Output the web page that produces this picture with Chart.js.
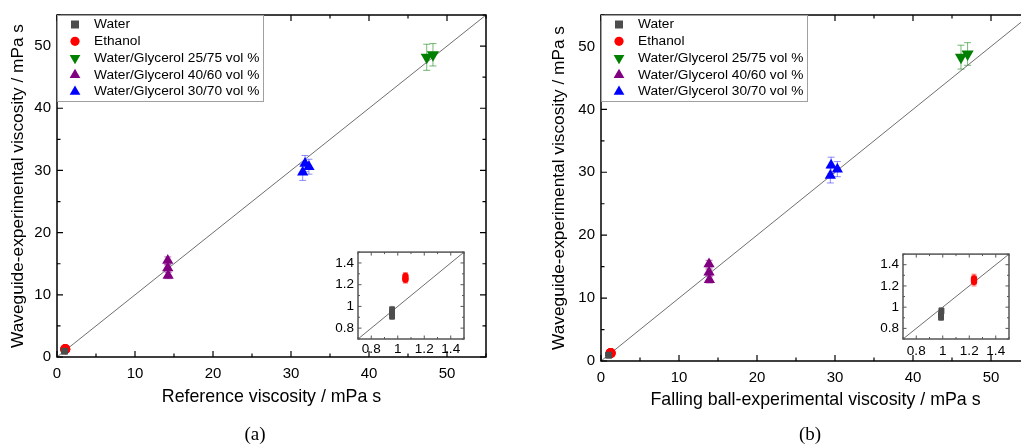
<!DOCTYPE html>
<html>
<head>
<meta charset="utf-8">
<script src="https://cdn.jsdelivr.net/npm/chart.js@4.4.1/dist/chart.umd.min.js"></script>
<style>
    html, body { margin: 0; padding: 0; width: 1021px; height: 446px; overflow: hidden; background: #fff; }
    canvas { position: absolute; }
    .panel-label { position: absolute; width: 100px; text-align: center; line-height: 22px;
                   font-family: "Liberation Serif", "Times New Roman", serif; font-size: 19px; color: #000; }
</style>
</head>
<body>
<canvas id="mainA" width="510" height="446" style="left:0;top:0"></canvas>
<canvas id="mainB" width="510" height="446" style="left:544px;top:0"></canvas>
<canvas id="insetA" width="150" height="120" style="left:320px;top:240px"></canvas>
<canvas id="insetB" width="150" height="120" style="left:865px;top:242px"></canvas>
<div class="panel-label" style="left:205px;top:423px">(a)</div>
<div class="panel-label" style="left:760px;top:423px">(b)</div>
<script>
const seriesNames = ["Water", "Ethanol", "Water/Glycerol 25/75 vol %", "Water/Glycerol 40/60 vol %", "Water/Glycerol 30/70 vol %"];

// panel (a): [reference viscosity, waveguide viscosity, error]
const waterA   = [[0.957, 0.91, 0.03], [0.957, 0.94, 0.03], [0.957, 0.97, 0.03]];
const ethanolA = [[1.058, 1.245, 0.03], [1.058, 1.26, 0.03], [1.058, 1.28, 0.03]];
const gly2575A = [[47.4, 48.2, 2.1], [48.2, 48.6, 1.8]];
const gly4060A = [[14.2, 15.5, 0.6], [14.2, 14.3, 0.5], [14.25, 13.1, 0.5]];
const gly3070A = [[31.8, 31.1, 1.3], [32.3, 30.6, 1.2], [31.5, 29.7, 1.3]];

// panel (b): [falling ball viscosity, waveguide viscosity, error]
const waterB   = [[0.987, 0.905, 0.03], [0.987, 0.93, 0.03], [0.99, 0.965, 0.03]];
const ethanolB = [[1.236, 1.24, 0.04], [1.236, 1.255, 0.04], [1.236, 1.27, 0.04]];
const gly2575B = [[46.15, 48.3, 1.9], [47.0, 48.8, 1.8]];
const gly4060B = [[13.85, 15.4, 0.6], [13.85, 14.1, 0.5], [13.9, 12.9, 0.5]];
const gly3070B = [[29.5, 31.1, 1.3], [30.3, 30.5, 1.2], [29.4, 29.5, 1.2]];

const mainRange = [0, 55];
const mainTickLabels = [0, 10, 20, 30, 40, 50];
const insetRange = [0.7, 1.5];
const insetTickLabels = [0.8, 1, 1.2, 1.4];

// estilos
const colors = ["#4d4d4d", "#ff0000", "#008000", "#800080", "#0000ff"];
const errColors = ["rgba(77,77,77,0.7)", "rgba(255,0,0,0.6)", "rgba(0,128,0,0.55)", "rgba(128,0,128,0.55)", "rgba(0,0,255,0.45)"];
const markers = ["rect", "circle", "triangle", "triangle", "triangle"];
const rotations = [0, 0, 180, 0, 0];
const mainRadius = [4.5, 5, 7, 6.5, 6.5];
const insetRadius = [4.2, 3.2, 5, 5, 5];

Chart.defaults.font.family = "'Liberation Sans', Arial, sans-serif";
Chart.defaults.color = "#000";

function isMajor(list, v) {
    return list.some(m => Math.abs(m - v) < 1e-6);
}

function armarDatasets(series, range, inset) {
    const ds = series.map((pts, i) => ({
        label: seriesNames[i],
        data: pts.map(p => ({ x: p[0], y: p[1], e: p[2] })),
        pointStyle: markers[i],
        pointRotation: rotations[i],
        pointRadius: inset ? insetRadius[i] : mainRadius[i],
        backgroundColor: colors[i],
        borderColor: colors[i],
        borderWidth: 0,
        errColor: errColors[i],
        capWidth: inset ? 2.5 : 3.5
    }));
    // linea y = x
    ds.push({
        label: "y=x",
        data: range.map(v => ({ x: v, y: v })),
        showLine: true,
        pointRadius: 0,
        borderColor: "#6e6e6e",
        borderWidth: 1
    });
    return ds;
}

const errorBars = {
    id: "errorBars",
    beforeDatasetsDraw(chart) {
        const { ctx, chartArea: a } = chart;
        const ys = chart.scales.y;
        ctx.save();
        ctx.beginPath();
        ctx.rect(a.left, a.top, a.right - a.left, a.bottom - a.top);
        ctx.clip();
        chart.data.datasets.forEach((ds, i) => {
            if (!ds.errColor) return;
            const meta = chart.getDatasetMeta(i);
            ctx.strokeStyle = ds.errColor;
            ctx.lineWidth = 1;
            meta.data.forEach((pt, j) => {
                const d = ds.data[j];
                const y1 = ys.getPixelForValue(d.y + d.e);
                const y2 = ys.getPixelForValue(d.y - d.e);
                const w = ds.capWidth;
                ctx.beginPath();
                ctx.moveTo(pt.x, y1); ctx.lineTo(pt.x, y2);
                ctx.moveTo(pt.x - w, y1); ctx.lineTo(pt.x + w, y1);
                ctx.moveTo(pt.x - w, y2); ctx.lineTo(pt.x + w, y2);
                ctx.stroke();
            });
        });
        ctx.restore();
    }
};

function marcoPlugin(cfg) {
    return {
        id: "marco",
        afterDatasetsDraw(chart) {
            const { ctx, chartArea: a, scales } = chart;
            ctx.save();
            ctx.strokeStyle = cfg.color;
            ctx.lineWidth = cfg.tickWidth;
            ctx.beginPath();
            scales.x.ticks.forEach(t => {
                const px = scales.x.getPixelForValue(t.value);
                const len = isMajor(cfg.labels, t.value) ? cfg.major : cfg.minor;
                ctx.moveTo(px, a.bottom); ctx.lineTo(px, a.bottom - len);
                ctx.moveTo(px, a.top); ctx.lineTo(px, a.top + len);
            });
            scales.y.ticks.forEach(t => {
                const py = scales.y.getPixelForValue(t.value);
                const len = isMajor(cfg.labels, t.value) ? cfg.major : cfg.minor;
                ctx.moveTo(a.left, py); ctx.lineTo(a.left + len, py);
                ctx.moveTo(a.right, py); ctx.lineTo(a.right - len, py);
            });
            ctx.stroke();
            ctx.lineWidth = cfg.width;
            ctx.strokeRect(a.left, a.top, a.right - a.left, a.bottom - a.top);
            ctx.restore();
        }
    };
}

function dibujarMarcador(ctx, estilo, rot, x, y, r) {
    ctx.beginPath();
    if (estilo === "rect") {
        ctx.rect(x - r, y - r, 2 * r, 2 * r);
    } else if (estilo === "circle") {
        ctx.arc(x, y, r, 0, Math.PI * 2);
    } else {
        const s = rot ? -1 : 1;
        ctx.moveTo(x, y - s * r);
        ctx.lineTo(x + r * 0.866, y + s * r * 0.5);
        ctx.lineTo(x - r * 0.866, y + s * r * 0.5);
        ctx.closePath();
    }
    ctx.fill();
}

const leyenda = {
    id: "leyenda",
    afterDraw(chart) {
        const { ctx, chartArea: a } = chart;
        const legendSizes = [4, 4.6, 6.2, 6.2, 6.2];
        ctx.save();
        ctx.fillStyle = "#fff";
        ctx.fillRect(a.left, a.top, 207, 86);
        ctx.strokeStyle = "#a0a0a0";
        ctx.lineWidth = 1;
        ctx.strokeRect(a.left + 0.5, a.top + 0.5, 206, 86);
        ctx.font = "13.7px 'Liberation Sans', Arial, sans-serif";
        ctx.textBaseline = "middle";
        seriesNames.forEach((name, i) => {
            const y = a.top + 9.5 + i * 16.8;
            ctx.fillStyle = colors[i];
            dibujarMarcador(ctx, markers[i], rotations[i], a.left + 18, y, legendSizes[i]);
            ctx.fillStyle = "#000";
            ctx.fillText(name, a.left + 37, y);
        });
        ctx.restore();
    }
};

function crearPrincipal(id, series, cfg) {
    return new Chart(document.getElementById(id), {
        type: "scatter",
        data: { datasets: armarDatasets(series, mainRange, false) },
        options: {
            responsive: false,
            animation: false,
            events: [],
            layout: { padding: { top: cfg.top, right: 24, left: 0, bottom: 0 } },
            plugins: { legend: { display: false }, tooltip: { enabled: false } },
            scales: {
                x: {
                    type: "linear", min: mainRange[0], max: mainRange[1],
                    grid: { display: false, drawTicks: false },
                    border: { display: false },
                    ticks: {
                        stepSize: 5, autoSkip: false, includeBounds: false, maxRotation: 0,
                        padding: 8, font: { size: 15 }, color: "#000",
                        callback: v => isMajor(mainTickLabels, v) ? String(v) : ""
                    },
                    title: { display: true, text: cfg.xTitle, font: { size: 17.8 }, color: "#000",
                             padding: { top: 0, bottom: cfg.xTitlePad } },
                    afterFit(s) { s.height = cfg.xHeight; }
                },
                y: {
                    type: "linear", min: mainRange[0], max: mainRange[1],
                    grid: { display: false, drawTicks: false },
                    border: { display: false },
                    ticks: {
                        stepSize: 5, autoSkip: false, includeBounds: false,
                        padding: 6, font: { size: 15 }, color: "#000",
                        callback: v => isMajor(mainTickLabels, v) ? String(v) : ""
                    },
                    title: { display: true, text: "Waveguide-experimental viscosity / mPa s", font: { size: 17.3 },
                             color: "#000", padding: { top: cfg.yTitlePad, bottom: 0 } },
                    afterFit(s) { s.width = 57; }
                }
            }
        },
        plugins: [errorBars, marcoPlugin({ color: "#000", width: 1.5, tickWidth: 1.2, major: 6, minor: 3.5, labels: mainTickLabels }), leyenda]
    });
}

function crearInset(id, series, cfg) {
    return new Chart(document.getElementById(id), {
        type: "scatter",
        data: { datasets: armarDatasets(series, insetRange, true) },
        options: {
            responsive: false,
            animation: false,
            events: [],
            layout: { padding: { top: 12, right: 6, left: 0, bottom: 0 } },
            plugins: { legend: { display: false }, tooltip: { enabled: false } },
            scales: {
                x: {
                    type: "linear", min: insetRange[0], max: insetRange[1],
                    grid: { display: false, drawTicks: false },
                    border: { display: false },
                    ticks: {
                        stepSize: 0.1, autoSkip: false, includeBounds: false, maxRotation: 0,
                        padding: cfg.xPad, font: { size: 13.5 }, color: "#000",
                        callback: v => isMajor(insetTickLabels, v) ? String(+v.toFixed(1)) : ""
                    },
                    afterFit(s) { s.height = cfg.xHeight; }
                },
                y: {
                    type: "linear", min: insetRange[0], max: insetRange[1],
                    grid: { display: false, drawTicks: false },
                    border: { display: false },
                    ticks: {
                        stepSize: 0.1, autoSkip: false, includeBounds: false,
                        padding: 4, font: { size: 13.5 }, color: "#000",
                        callback: v => isMajor(insetTickLabels, v) ? String(+v.toFixed(1)) : ""
                    },
                    afterFit(s) { s.width = 38; }
                }
            }
        },
        plugins: [errorBars, marcoPlugin({ color: "#555", width: 1.5, tickWidth: 1, major: 3.5, minor: 2, labels: insetTickLabels })]
    });
}

document.addEventListener("DOMContentLoaded", function () {
    crearPrincipal("mainA", [waterA, ethanolA, gly2575A, gly4060A, gly3070A],
        { top: 13, xHeight: 89, xTitle: "Reference viscosity / mPa s", xTitlePad: 38, yTitlePad: 8 });
    crearPrincipal("mainB", [waterB, ethanolB, gly2575B, gly4060B, gly3070B],
        { top: 14, xHeight: 85, xTitle: "Falling ball-experimental viscosity / mPa s", xTitlePad: 35, yTitlePad: 5 });
    crearInset("insetA", [waterA, ethanolA], { xHeight: 21, xPad: 2 });
    crearInset("insetB", [waterB, ethanolB], { xHeight: 23, xPad: 4 });
});
</script>
</body>
</html>
